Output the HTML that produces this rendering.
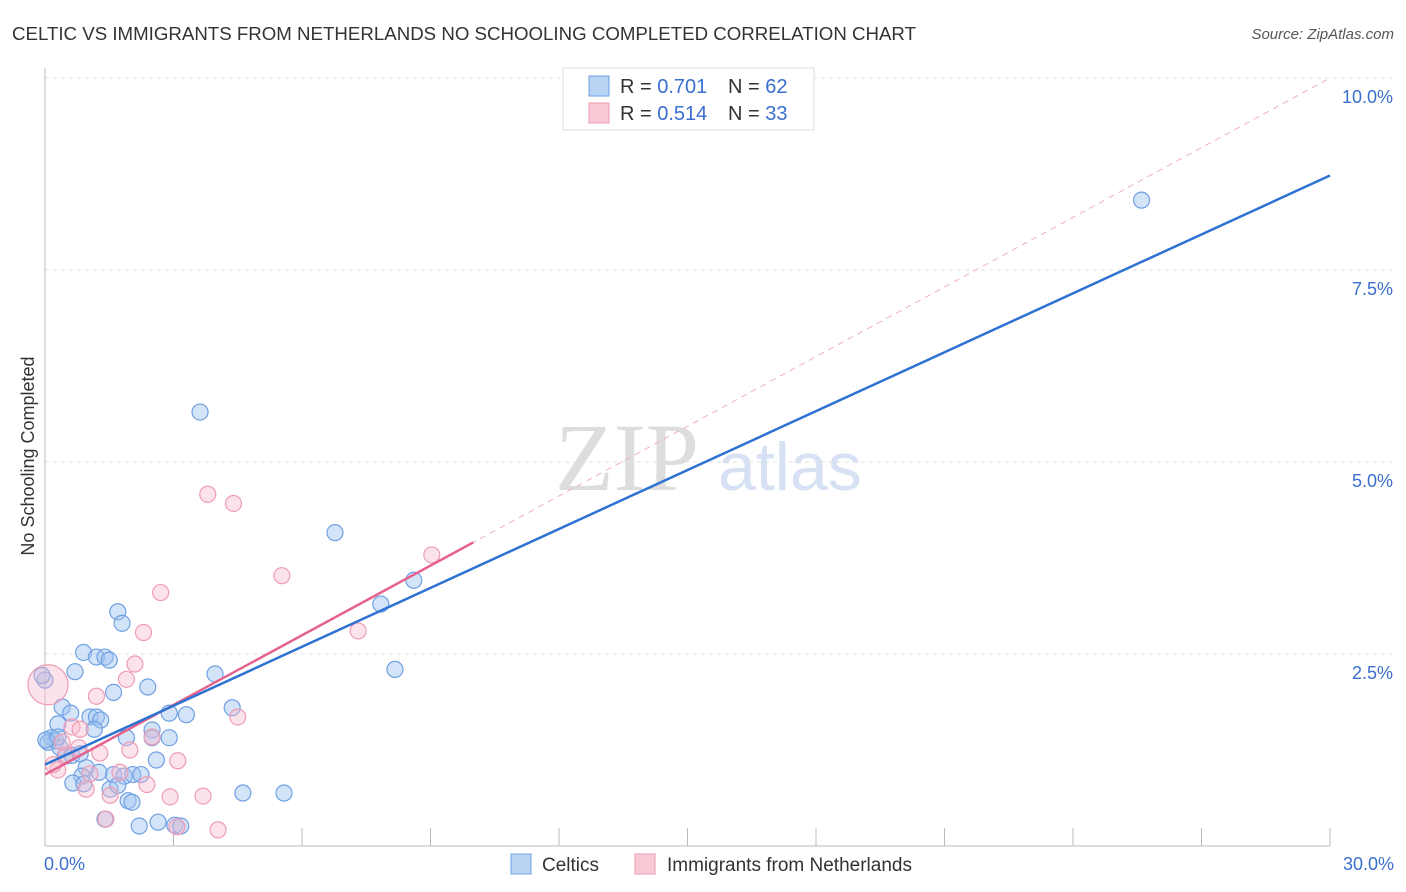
<!DOCTYPE html>
<html><head><meta charset="utf-8">
<style>
body{margin:0;background:#fff;font-family:"Liberation Sans",sans-serif;}
svg{display:block}
</style></head>
<body>
<svg id="c" width="1406" height="892">
<text x="12" y="40" font-size="18" fill="#333" textLength="904" lengthAdjust="spacingAndGlyphs">CELTIC VS IMMIGRANTS FROM NETHERLANDS NO SCHOOLING COMPLETED CORRELATION CHART</text>
<text x="1394" y="39" font-size="15" fill="#555" font-style="italic" text-anchor="end">Source: ZipAtlas.com</text>
<text x="34" y="456" font-size="18" fill="#333" text-anchor="middle" transform="rotate(-90 34 456)">No Schooling Completed</text>
<text x="555" y="490" font-size="96" fill="#ddd" font-family="Liberation Serif,serif">ZIP</text>
<text x="718" y="490" font-size="68" fill="#d6e2f3">atlas</text>
<g id="grid"></g><g id="pts"></g><g id="lines"></g>
<g>
<rect x="563" y="68" width="251" height="62" fill="#fff" stroke="#ddd"/>
<rect x="589" y="76" width="20" height="20" fill="#b9d3f5" stroke="#6fa0e3"/>
<text x="620" y="93" font-size="20" fill="#333">R = <tspan fill="#3a6fd0">0.701</tspan></text>
<text x="728" y="93" font-size="20" fill="#333">N = <tspan fill="#3a6fd0">62</tspan></text>
<rect x="589" y="103" width="20" height="20" fill="#f9c9d6" stroke="#ee9cb4"/>
<text x="620" y="120" font-size="20" fill="#333">R = <tspan fill="#3a6fd0">0.514</tspan></text>
<text x="728" y="120" font-size="20" fill="#333">N = <tspan fill="#3a6fd0">33</tspan></text>
</g>
<g>
<rect x="511" y="854" width="20" height="20" fill="#b9d3f5" stroke="#6fa0e3"/>
<text x="542" y="871" font-size="19" fill="#333">Celtics</text>
<rect x="635" y="854" width="20" height="20" fill="#f9c9d6" stroke="#ee9cb4"/>
<text x="667" y="871" font-size="19" fill="#333">Immigrants from Netherlands</text>
</g>
</svg>
<script>
const xTicks=[0,30];
const yTicks=[2.5,5.0,7.5,10.0];
const celtX=[3.62,6.77,25.6,8.61,7.84,8.17,1.7,1.8,0.9,1.2,1.4,1.5,0.7,2.4,1.6,3.97,0.4,0.6,1.05,1.2,1.3,1.15,0.3,2.9,3.3,4.37,2.5,1.9,2.5,2.9,0.15,0.25,0.07,0.35,0.47,0.63,0.82,2.6,0.96,1.6,1.85,2.05,2.24,1.26,0.86,0.65,0.91,1.52,1.7,4.62,5.58,1.94,2.03,1.4,2.2,2.64,3.03,3.17,0.0,0.02,0.3,-0.07];
const celtY=[5.65,4.08,8.41,3.46,3.15,2.3,3.05,2.9,2.52,2.46,2.46,2.42,2.27,2.07,2.0,2.24,1.81,1.73,1.68,1.68,1.64,1.52,1.59,1.73,1.71,1.8,1.51,1.41,1.41,1.41,1.41,1.37,1.35,1.28,1.17,1.18,1.2,1.12,1.02,0.93,0.91,0.93,0.93,0.96,0.91,0.82,0.81,0.74,0.79,0.69,0.69,0.59,0.57,0.35,0.26,0.31,0.27,0.26,2.16,1.38,1.42,2.22];
const netX=[3.8,4.4,2.7,5.53,9.03,7.31,2.3,2.1,1.9,1.2,4.5,0.63,0.82,2.5,1.98,1.28,3.1,1.75,1.05,2.38,0.96,1.52,2.92,3.69,1.42,4.04,3.08,0.3,0.49,0.07,0.4,0.79,0.19];
const netY=[4.58,4.46,3.3,3.52,3.79,2.8,2.78,2.37,2.17,1.95,1.68,1.55,1.52,1.42,1.25,1.21,1.11,0.96,0.94,0.8,0.74,0.66,0.64,0.65,0.35,0.21,0.25,0.99,1.19,2.1,1.35,1.28,1.06];
const netR=[8,8,8,8,8,8,8,8,8,8,8,8,8,8,8,8,8,8,8,8,8,8,8,8,8,8,8,8,8,20,8,8,8];
const X0=45,X1=1330,Y0=846,Y10=78;
const sx=v=>X0+(v/30)*(X1-X0), sy=v=>Y0-(v/10)*(Y0-Y10);
const NS='http://www.w3.org/2000/svg';
function mk(t,a,p){const e=document.createElementNS(NS,t);for(const k in a)e.setAttribute(k,a[k]);p.appendChild(e);return e;}
const grid=document.getElementById('grid');
yTicks.forEach(t=>{
 const l=mk('line',{x1:X0,x2:1394,y1:sy(t),y2:sy(t),stroke:'#e2e2e2','stroke-dasharray':'4,4'},grid);
 
 
 const tx=mk('text',{x:1393,y:sy(t)+25,'font-size':18,fill:'#3a6fd0','text-anchor':'end'},grid);
 tx.textContent=t.toFixed(1)+'%';
 
 
});
mk('line',{x1:X0,x2:X0,y1:68,y2:Y0,stroke:'#bbb'},grid);
mk('line',{x1:X0,x2:X1,y1:Y0,y2:Y0,stroke:'#bbb'},grid);
for(let i=1;i<=10;i++){const x=X0+i*(X1-X0)/10;mk('line',{x1:x,x2:x,y1:828,y2:Y0,stroke:'#bbb'},grid);}
xTicks.forEach((t,i)=>{
 const tx=mk('text',{x:sx(t)+(i==0?-1:64),y:870,'font-size':18,fill:'#3a6fd0','text-anchor':i==0?'start':'end'},grid);
 tx.textContent=t.toFixed(1)+'%';
 
 
});
const pts=document.getElementById('pts');
celtX.forEach((v,i)=>{
 const c=mk('circle',{cx:sx(v),cy:sy(celtY[i]),r:8,fill:'rgba(160,195,240,0.45)',stroke:'#6fa0e3','stroke-width':1.2},pts);
 
 
});
netX.forEach((v,i)=>{
 const c=mk('circle',{cx:sx(v),cy:sy(netY[i]),r:netR[i],fill:'rgba(248,185,205,0.4)',stroke:'#ee9cb4','stroke-width':1.2},pts);
 
 
});
const lines=document.getElementById('lines');
const blueFit=[1.06,8.73], pinkFit=[0.93,10.0], pinkEnd=10.0;
let l=mk('line',{x1:sx(0),y1:sy(pinkFit[0]),x2:sx(30),y2:sy(pinkFit[1]),stroke:'#eeb0c2','stroke-dasharray':'6,5','stroke-width':1},lines);


const pe=(pinkFit[0]+(pinkFit[1]-pinkFit[0])*pinkEnd/30);
l=mk('line',{x1:sx(0),y1:sy(pinkFit[0]),x2:sx(pinkEnd),y2:sy(pe),stroke:'#e4628e','stroke-width':2.5},lines);


l=mk('line',{x1:sx(0),y1:sy(blueFit[0]),x2:sx(30),y2:sy(blueFit[1]),stroke:'#2e72d2','stroke-width':2.5},lines);


</script>
</body></html>
